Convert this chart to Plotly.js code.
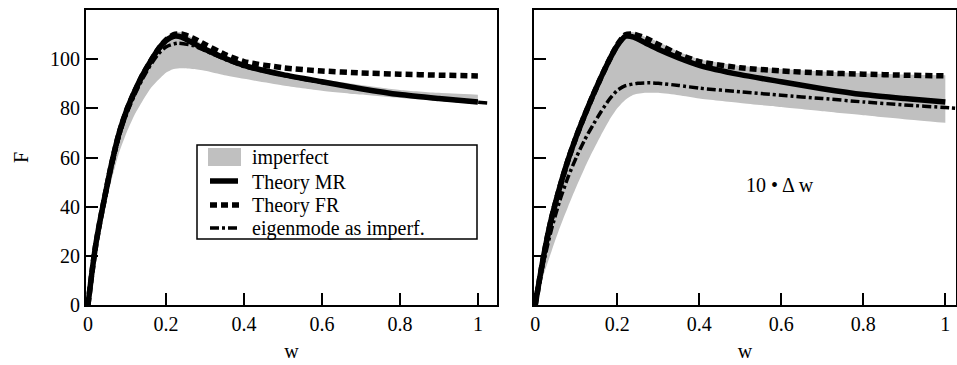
<!DOCTYPE html>
<html>
<head>
<meta charset="utf-8">
<script src="https://cdn.plot.ly/plotly-3.0.1.min.js"></script>
<style>html,body{margin:0;padding:0;background:#fff;}#chart{width:957px;height:365px;}</style>
</head>
<body>
<div id="chart"></div>
<script>
// ---- data ----
var xTheory = [0, 0.01, 0.02, 0.03, 0.04, 0.06, 0.08, 0.10, 0.12, 0.14, 0.16, 0.18, 0.20, 0.22, 0.24, 0.27, 0.30, 0.35, 0.40, 0.50, 0.60, 0.70, 0.80, 0.90, 1.00];
var leftTheoryMR = [0, 13, 24.5, 33.5, 41.5, 57, 70, 79.5, 87, 93.5, 99, 104, 107.5, 109.3, 109, 106.5, 104, 100.5, 97.5, 93.7, 90.8, 88, 85.6, 84, 82.6];
var leftTheoryFR = [0, 13, 24.5, 33.5, 41.5, 57, 70, 79.5, 87, 93.5, 99, 104, 107.8, 110, 110.2, 108.5, 106, 102, 99, 96.5, 95.2, 94.4, 93.9, 93.5, 93.2];
var rightTheoryMR = [0, 10, 19.5, 28, 35.5, 48, 59, 68.5, 77, 85, 92.5, 99.5, 105.5, 109.3, 109, 106.5, 104, 100.5, 97.5, 93.7, 90.8, 88, 85.6, 84, 82.6];
var rightTheoryFR = [0, 10, 19.5, 28, 35.5, 48, 59, 68.5, 77, 85, 92.5, 99.5, 105.8, 110, 110.2, 108.5, 106, 102, 99, 96.5, 95.2, 94.4, 93.9, 93.5, 93.2];

var xBand = [0, 0.02, 0.04, 0.06, 0.08, 0.10, 0.12, 0.14, 0.16, 0.18, 0.20, 0.22, 0.24, 0.27, 0.30, 0.35, 0.40, 0.50, 0.60, 0.70, 0.80, 0.90, 1.00];
var leftBandUpper = [0, 25, 42.5, 58, 71, 80.5, 88, 94.5, 100, 105, 108.5, 110.8, 111, 108.5, 105.5, 101.5, 98.5, 94.5, 91.8, 89.5, 87.5, 86.3, 85.5];
var leftBandLower = [0, 20, 37.5, 50.5, 62, 70.5, 77.5, 83, 88, 91.5, 94.5, 96, 96.3, 96, 95.3, 93.5, 92, 89.3, 87.2, 85.6, 84.2, 83, 81.8];
var rightBandUpper = [0, 21, 37.5, 50, 61, 70.5, 79, 87, 94.5, 101.5, 107, 110.8, 111, 109, 107, 103, 100, 97.3, 96, 95, 94.3, 93.8, 93.5];
var rightBandLower = [0, 12, 22, 31.5, 40, 48, 55.5, 62.5, 69, 75, 80, 83.5, 85.5, 86.3, 86.3, 85.3, 84, 82.2, 80.5, 78.8, 77.2, 75.6, 74.1];

var xEigenLeft = [0, 0.02, 0.04, 0.06, 0.08, 0.10, 0.12, 0.14, 0.16, 0.18, 0.20, 0.23, 0.27, 0.30, 0.35, 0.40, 0.50, 0.60, 0.70, 0.80, 0.90, 1.00, 1.025];
var eigenLeft = [0, 23.5, 40.5, 55.5, 68.5, 78, 85.5, 92, 97.5, 102, 105, 106.5, 105.5, 103.5, 100, 97, 93.5, 90.5, 88, 85.5, 83.8, 82.5, 82.2];
var xEigenRight = [0, 0.02, 0.04, 0.06, 0.08, 0.10, 0.12, 0.14, 0.16, 0.18, 0.20, 0.22, 0.25, 0.28, 0.30, 0.35, 0.40, 0.50, 0.60, 0.70, 0.80, 0.90, 1.00, 1.025];
var eigenRight = [0, 17, 31, 42.5, 52, 60, 67, 73, 78.5, 83.5, 87.3, 89.2, 90.2, 90.4, 90.2, 89.3, 88.2, 86.7, 85.3, 84, 82.6, 81.4, 80.3, 80];

var xTicks = [0, 0.2, 0.4, 0.6, 0.8, 1];
var xTickText = ["0", "0.2", "0.4", "0.6", "0.8", "1"];
var yTicks = [0, 20, 40, 60, 80, 100];
var yTickText = ["0", "20", "40", "60", "80", "100"];
var legendNames = ["imperfect", "Theory MR", "Theory FR", "eigenmode as imperf."];
var panelNote = "10 • Δ w";

// ---- styles ----
var FONT = "Liberation Serif";
var FS = 20;
var GRAY = "#c0c0c0";
var W = 957, H = 365, MT = 10, MB = 60;
var mrLine = {color: "black", width: 5.5};
var frLine = {color: "black", width: 5.5, dash: "7px,4px"};
var eiLine = {color: "black", width: 3.5, dash: "9px,3px,3px,3px"};

function band(x, lo, up, xa, ya) {
  return [
    {x: x, y: lo, xaxis: xa, yaxis: ya, mode: "lines", line: {width: 0, color: GRAY, shape: "spline", smoothing: 0.6}, showlegend: false, hoverinfo: "skip"},
    {x: x, y: up, xaxis: xa, yaxis: ya, mode: "lines", fill: "tonexty", fillcolor: GRAY, line: {width: 0, color: GRAY, shape: "spline", smoothing: 0.6}, showlegend: false, name: legendNames[0]}
  ];
}
function ln(x, y, xa, ya, st, nm) {
  var l = Object.assign({shape: "spline", smoothing: 0.6}, st);
  return {x: x, y: y, xaxis: xa, yaxis: ya, mode: "lines", line: l, showlegend: false, name: nm};
}

var data = []
  .concat(band(xBand, leftBandLower, leftBandUpper, "x", "y"))
  .concat([ln(xEigenLeft, eigenLeft, "x", "y", eiLine, legendNames[3]),
           ln(xTheory, leftTheoryMR, "x", "y", mrLine, legendNames[1]),
           ln(xTheory, leftTheoryFR, "x", "y", frLine, legendNames[2])])
  .concat(band(xBand, rightBandLower, rightBandUpper, "x2", "y2"))
  .concat([ln(xEigenRight, eigenRight, "x2", "y2", eiLine, legendNames[3]),
           ln(xTheory, rightTheoryMR, "x2", "y2", mrLine, legendNames[1]),
           ln(xTheory, rightTheoryFR, "x2", "y2", frLine, legendNames[2])]);

function axBase() {
  return {showline: true, mirror: true, linecolor: "black", linewidth: 2, ticks: "inside", ticklen: 12, tickwidth: 2, tickcolor: "black",
          showgrid: false, zeroline: false, tickfont: {family: FONT, size: FS, color: "black"}, fixedrange: true};
}
var xa1 = Object.assign(axBase(), {domain: [86 / W, 497 / W], range: [-0.005, 1.049], tickvals: xTicks, ticktext: xTickText,
  title: {text: "w", font: {family: FONT, size: FS, color: "black"}, standoff: 10}, anchor: "y"});
var ya1 = Object.assign(axBase(), {range: [0, 120], tickvals: yTicks, ticktext: yTickText, anchor: "x",
  title: {text: "F", font: {family: FONT, size: FS, color: "black"}, standoff: 16}});
var xa2 = Object.assign(axBase(), {domain: [534 / W, 956 / W], range: [-0.003, 1.026], tickvals: xTicks, ticktext: xTickText,
  title: {text: "w", font: {family: FONT, size: FS, color: "black"}, standoff: 10}, anchor: "y2"});
var ya2 = Object.assign(axBase(), {range: [0, 120], tickvals: yTicks, showticklabels: false, anchor: "x2"});

// manual legend in pixel positions -> paper coordinates
function px(v) { return v / W; }
function py(v) { return (H - MB - v) / (H - MT - MB); }
var shapes = [
  {type: "rect", xref: "paper", yref: "paper", x0: px(197), x1: px(477), y0: py(145), y1: py(239), line: {color: "black", width: 1.5}, fillcolor: "white", layer: "above"},
  {type: "rect", xref: "paper", yref: "paper", x0: px(208), x1: px(241), y0: py(148), y1: py(166), line: {width: 0}, fillcolor: GRAY, layer: "above"},
  {type: "line", xref: "paper", yref: "paper", x0: px(210), x1: px(238), y0: py(181), y1: py(181), line: {color: "black", width: 5.5}, layer: "above"},
  {type: "line", xref: "paper", yref: "paper", x0: px(210), x1: px(239), y0: py(205), y1: py(205), line: {color: "black", width: 5.5, dash: "7px,4px"}, layer: "above"},
  {type: "line", xref: "paper", yref: "paper", x0: px(210), x1: px(239), y0: py(228), y1: py(228), line: {color: "black", width: 3.5, dash: "9px,3px,3px,3px"}, layer: "above"}
];
var rowY = [157, 182, 205, 228];
var annotations = legendNames.map(function (t, i) {
  return {xref: "paper", yref: "paper", x: px(250), y: py(rowY[i]), text: t, showarrow: false, xanchor: "left", yanchor: "middle",
          font: {family: FONT, size: FS, color: "black"}};
});
annotations.push({xref: "x2", yref: "y2", x: 0.597, y: 48.8, text: panelNote, showarrow: false, xanchor: "center", yanchor: "middle",
  font: {family: FONT, size: FS, color: "black"}});

var layout = {
  width: W, height: H, margin: {l: 0, r: 0, t: MT, b: MB},
  paper_bgcolor: "white", plot_bgcolor: "white", showlegend: false,
  xaxis: xa1, yaxis: ya1, xaxis2: xa2, yaxis2: ya2,
  shapes: shapes, annotations: annotations,
  font: {family: FONT, size: FS, color: "black"}
};
Plotly.newPlot("chart", data, layout, {displayModeBar: false, staticPlot: true});
</script>
</body>
</html>
